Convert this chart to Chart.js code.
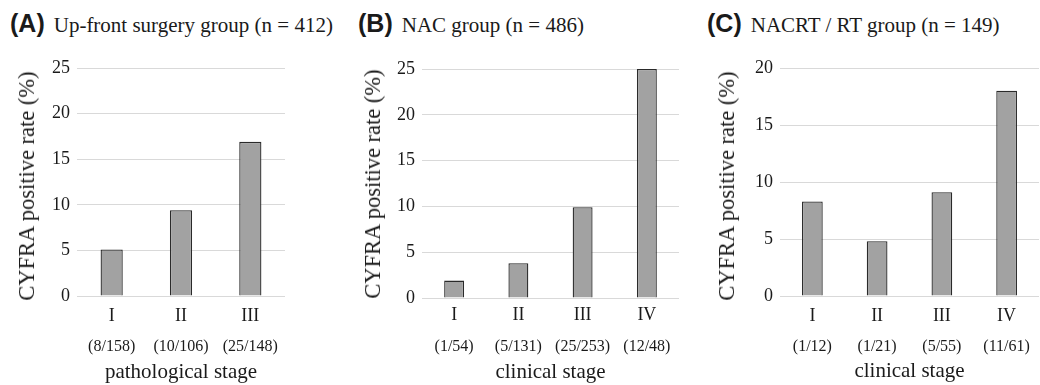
<!DOCTYPE html>
<html>
<head>
<meta charset="utf-8">
<script src="https://cdn.jsdelivr.net/npm/chart.js@4/dist/chart.umd.min.js"></script>
<style>
  html, body { margin: 0; padding: 0; background: #ffffff; }
  body { width: 1040px; height: 385px; position: relative; overflow: hidden; }
  .panel { position: absolute; top: 0; height: 385px; }
  .head { position: absolute; top: 8px; white-space: nowrap; line-height: 30px; color: #1a1a1a;
          font-family: "Liberation Sans", Arial, sans-serif; font-size: 25px; font-weight: bold; }
  .head .t { font-family: "Liberation Serif", "Times New Roman", serif; font-weight: normal; font-size: 21px; margin-left: 9px; }
  .ytitle { position: absolute; white-space: nowrap; color: #1a1a1a;
            font-family: "Liberation Serif", "Times New Roman", serif; font-size: 22.5px; line-height: 24px;
            transform: translate(-50%, -50%) rotate(-90deg); }
</style>
</head>
<body>

<div class="head" style="left:10px">(A)<span class="t">Up-front surgery group (n = 412)</span></div>
<div class="head" style="left:358px">(B)<span class="t">NAC group (n = 486)</span></div>
<div class="head" style="left:707px">(C)<span class="t">NACRT / RT group (n = 149)</span></div>

<div class="panel" style="left:0px;width:345px"><canvas id="cA" width="345" height="385"></canvas></div>
<div class="panel" style="left:345px;width:345px"><canvas id="cB" width="345" height="385"></canvas></div>
<div class="panel" style="left:690px;width:350px"><canvas id="cC" width="350" height="385"></canvas></div>

<div class="ytitle" style="left:27px;top:186px">CYFRA positive rate (%)</div>
<div class="ytitle" style="left:373px;top:184px">CYFRA positive rate (%)</div>
<div class="ytitle" style="left:727px;top:186px">CYFRA positive rate (%)</div>

<script>
// ---- data ----
const stagesA = ['I', 'II', 'III'];
const countsA = ['(8/158)', '(10/106)', '(25/148)'];
const valuesA = [5.1, 9.4, 16.9];
const yTicksA = [0, 5, 10, 15, 20, 25];

const stagesB = ['I', 'II', 'III', 'IV'];
const countsB = ['(1/54)', '(5/131)', '(25/253)', '(12/48)'];
const valuesB = [1.9, 3.8, 9.9, 25.0];
const yTicksB = [0, 5, 10, 15, 20, 25];

const stagesC = ['I', 'II', 'III', 'IV'];
const countsC = ['(1/12)', '(1/21)', '(5/55)', '(11/61)'];
const valuesC = [8.3, 4.8, 9.1, 18.0];
const yTicksC = [0, 5, 10, 15, 20];

const xTitleA = 'pathological stage';
const xTitleB = 'clinical stage';
const xTitleC = 'clinical stage';

// ---- drawing ----
const SERIF = '"Liberation Serif", "Times New Roman", serif';
const TXT = '#1a1a1a';

function makeChart(id, stages, counts, values, yTicks, xTitle, geo) {
  const yMax = yTicks[yTicks.length - 1];
  const yStep = yTicks[1] - yTicks[0];
  new Chart(document.getElementById(id), {
    type: 'bar',
    data: {
      labels: stages,
      datasets: [{
        data: values,
        backgroundColor: '#a2a2a2',
        borderColor: '#2a2a2a',
        borderWidth: 1.3,
        barPercentage: geo.bar,
        categoryPercentage: 1.0
      }]
    },
    options: {
      responsive: false,
      devicePixelRatio: 1,
      animation: false,
      events: [],
      layout: { padding: { left: 0, top: geo.top, right: geo.right, bottom: 0 } },
      plugins: { legend: { display: false }, tooltip: { enabled: false } },
      scales: {
        y: {
          min: 0, max: yMax,
          afterFit: s => { s.width = geo.yW; },
          ticks: { stepSize: yStep, padding: 7, color: TXT, font: { family: SERIF, size: 18 } },
          grid: { color: '#d9d9d9', lineWidth: 1, drawTicks: false },
          border: { display: false }
        },
        x: {
          weight: 0,
          position: 'bottom',
          afterFit: s => { s.height = geo.xH; },
          ticks: { padding: geo.xPad, color: TXT, font: { family: SERIF, size: 18 }, maxRotation: 0 },
          grid: { display: false, drawTicks: false },
          border: { display: false }
        },
        x2: {
          type: 'category',
          weight: 1,
          position: 'bottom',
          labels: counts,
          offset: true,
          afterFit: s => { s.height = geo.x2H; },
          ticks: { padding: 10, color: TXT, font: { family: SERIF, size: 16 }, maxRotation: 0, autoSkip: false },
          grid: { display: false, drawTicks: false },
          border: { display: false },
          title: { display: true, text: xTitle, color: TXT, font: { family: SERIF, size: 21 }, padding: { top: 0, bottom: geo.tPad } }
        }
      }
    }
  });
}

makeChart('cA', stagesA, countsA, valuesA, yTicksA, xTitleA,
  { top: 68, right: 60, yW: 77, xH: 31, xPad: 9, x2H: 58, tPad: 0, bar: 0.32 });
makeChart('cB', stagesB, countsB, valuesB, yTicksB, xTitleB,
  { top: 69, right: 11, yW: 77, xH: 29, xPad: 6, x2H: 58, tPad: 0, bar: 0.31 });
makeChart('cC', stagesC, countsC, valuesC, yTicksC, xTitleC,
  { top: 68, right: 0, yW: 90, xH: 31, xPad: 9, x2H: 58, tPad: 1, bar: 0.32 });
</script>
</body>
</html>
